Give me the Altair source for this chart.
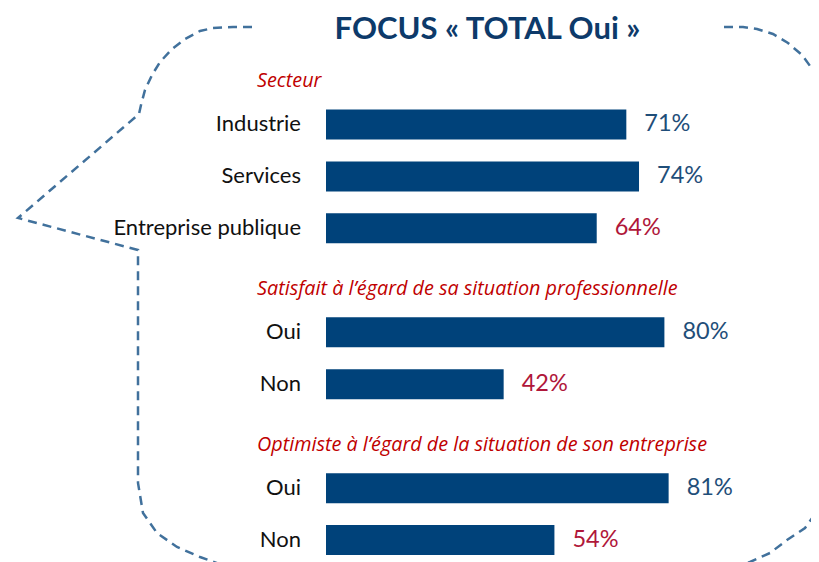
import altair as alt
import pandas as pd

# --- data ---
categories = ["Industrie", "Services", "Entreprise publique", "Oui", "Non", "Oui", "Non"]
values = [71, 74, 64, 80, 42, 81, 54]
rows = [1, 2, 3, 5, 6, 8, 9]
tones = ["blue", "blue", "red", "blue", "red", "blue", "red"]

headers = [
    "Secteur",
    "Satisfait à l’égard de sa situation professionnelle",
    "Optimiste à l’égard de la situation de son entreprise",
]
header_rows = [0, 4, 7]

# speech-bubble outline (page pixel coordinates), two open pieces
outline_left_x = [252, 233, 213, 200, 185, 172, 160, 152, 145, 141, 139, 18, 138, 138, 143, 157, 177, 200, 225]
outline_left_y = [27, 27, 28, 31, 39, 49, 62, 75, 90, 105, 114, 218, 250, 483, 513, 533, 547, 557, 566]
outline_right_x = [724, 743, 757, 773, 788, 802, 813, 822, 830, 830, 818, 805, 787, 770, 750, 730]
outline_right_y = [27, 27, 29, 34, 43, 55, 70, 88, 110, 470, 510, 528, 540, 553, 562, 568]

FONT = "Lato"
HFONT = "Open Sans"
BAR = "#00427a"
BLUE = "#1f4e79"
RED = "#b0173a"
HEAD = "#c00000"
LINE = "#41719c"

df = pd.DataFrame({
    "cat": categories,
    "v": values,
    "row": rows,
    "tone": tones,
    "label": [f"{v}%" for v in values],
})
hdf = pd.DataFrame({"text": headers, "row": header_rows})

odf = pd.concat([
    pd.DataFrame({"px": outline_left_x, "py": outline_left_y, "piece": "L",
                  "i": list(range(len(outline_left_x)))}),
    pd.DataFrame({"px": outline_right_x, "py": outline_right_y, "piece": "R",
                  "i": list(range(len(outline_right_x)))}),
])

xs = alt.Scale(domain=[0, 100], nice=False, zero=True)
ys = alt.Scale(domain=[-0.5, 9.2], reverse=True, nice=False, zero=False)

X = alt.X("v:Q", scale=xs, axis=None)
Y = alt.Y("row:Q", scale=ys, axis=None)

bars = alt.Chart(df).mark_bar(orient="horizontal", size=30, color=BAR).encode(x=X, y=Y)

vals = alt.Chart(df).mark_text(
    align="left", baseline="middle", dx=18, fontSize=23.5, font=FONT
).encode(
    x=X, y=Y, text="label:N",
    color=alt.Color("tone:N", scale=alt.Scale(domain=["blue", "red"], range=[BLUE, RED]), legend=None),
)

cats = alt.Chart(df).mark_text(
    align="right", baseline="middle", dx=-25, fontSize=22, font=FONT, color="#111111"
).encode(x=alt.datum(0), y=Y, text="cat:N")

heads = alt.Chart(hdf).mark_text(
    align="left", baseline="middle", dx=-69, dy=9, fontSize=19.8, font=HFONT,
    fontStyle="italic", color=HEAD
).encode(x=alt.datum(0), y=alt.Y("row:Q", scale=ys, axis=None), text="text:N")

main = alt.layer(bars, vals, cats, heads)

outline = alt.Chart(odf).mark_line(
    strokeDash=[9, 6], strokeWidth=2.5, color=LINE
).encode(
    x=alt.X("px:Q", scale=alt.Scale(domain=[326, 749], nice=False, zero=False), axis=None),
    y=alt.Y("py:Q", scale=alt.Scale(domain=[41.5, 555.5], reverse=True, nice=False, zero=False), axis=None),
    detail="piece:N",
    order="i:Q",
)

chart = alt.layer(outline, main).resolve_scale(x="independent", y="independent").properties(
    width=423,
    height=514,
    autosize=alt.AutoSizeParams(type="none"),
    padding={"left": 318, "top": 33.5, "right": 62, "bottom": 6},
    title=alt.TitleParams(
        "FOCUS « TOTAL Oui »", font=FONT, fontSize=31, fontWeight="bold",
        color="#0d3a6a", anchor="middle", dx=-50, dy=28, offset=4,
    ),
).configure_view(stroke=None)

chart.save("out.html", embed_options={"renderer": "svg", "actions": False})
